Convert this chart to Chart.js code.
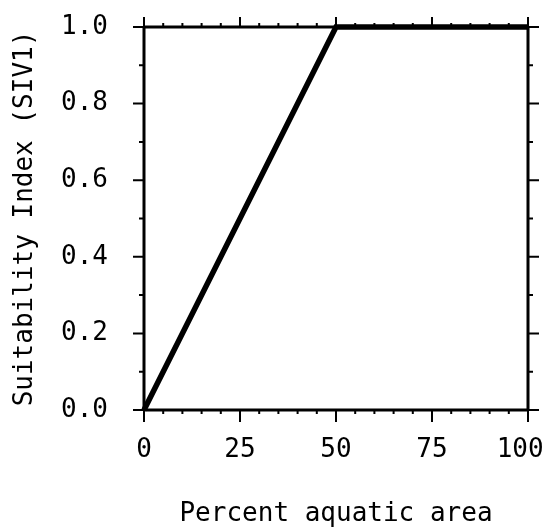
<!DOCTYPE html>
<html>
<head>
<meta charset="utf-8">
<script src="https://cdn.jsdelivr.net/npm/chart.js@4/dist/chart.umd.min.js"></script>
<style>
  html, body { margin: 0; padding: 0; background: #fff; }
  #wrap { width: 547px; height: 528px; }
</style>
</head>
<body>
<div id="wrap"><canvas id="siChart" width="547" height="528"></canvas></div>
<script>
// percent aquatic area vs suitability index
const aquaticPct = [0, 50, 100];
const suitability = [0, 1, 1];
const xTicks = [0, 25, 50, 75, 100];
const yTicks = [0, 0.2, 0.4, 0.6, 0.8, 1.0];
const xMinorStep = 5;
const yMinorStep = 0.1;

const FONT = "'DejaVu Sans Mono', 'Liberation Mono', monospace";
const FSIZE = 26;

// outward tick marks on all four sides, plus the frame
const frameTicks = {
  id: 'frameTicks',
  afterDatasetsDraw(chart) {
    const { ctx, chartArea: a, scales: { x, y } } = chart;
    ctx.save();
    ctx.strokeStyle = '#000';
    ctx.lineCap = 'butt';

    ctx.lineWidth = 3;
    ctx.beginPath();
    ctx.moveTo(a.left, a.top); ctx.lineTo(a.right, a.top);
    ctx.moveTo(a.right, a.top); ctx.lineTo(a.right, a.bottom);
    ctx.moveTo(a.left, a.bottom); ctx.lineTo(a.right + 1, a.bottom);
    ctx.moveTo(a.left, a.top - 1); ctx.lineTo(a.left, a.bottom + 1);
    ctx.stroke();

    ctx.lineWidth = 2;
    ctx.beginPath();
    for (let v = 0; v <= 100 + 1e-9; v += xMinorStep) {
      const px = x.getPixelForValue(v);
      const major = xTicks.includes(v);
      ctx.moveTo(px, a.top); ctx.lineTo(px, a.top - (major ? 10 : 4));
      ctx.moveTo(px, a.bottom); ctx.lineTo(px, a.bottom + (major ? 12 : 4));
    }
    for (let i = 0; i <= 10; i++) {
      const v = i * yMinorStep;
      const py = y.getPixelForValue(v);
      const major = i % 2 === 0;
      ctx.moveTo(a.left, py); ctx.lineTo(a.left - (major ? 11 : 5), py);
      ctx.moveTo(a.right, py); ctx.lineTo(a.right + (major ? 11 : 5), py);
    }
    ctx.stroke();
    ctx.restore();
  }
};

const chart = new Chart(document.getElementById('siChart'), {
  type: 'line',
  data: {
    datasets: [{
      data: aquaticPct.map((v, i) => ({ x: v, y: suitability[i] })),
      borderColor: '#000',
      borderWidth: 5.5,
      pointRadius: 0,
      tension: 0,
      clip: false
    }]
  },
  options: {
    responsive: false,
    animation: false,
    layout: { padding: { top: 27, right: 19, left: 0, bottom: 0 } },
    plugins: { legend: { display: false }, tooltip: { enabled: false } },
    scales: {
      x: {
        type: 'linear',
        min: 0,
        max: 100,
        afterBuildTicks: (s) => { s.ticks = xTicks.map(v => ({ value: v })); },
        afterFit: (s) => { s.height = 118; s.paddingLeft = 0; s.paddingRight = 0; },
        grid: { display: true, drawOnChartArea: false, drawTicks: true, tickLength: 12, color: 'rgba(0,0,0,0)' },
        border: { display: false },
        ticks: {
          color: '#000',
          font: { family: FONT, size: FSIZE },
          padding: 13,
          maxRotation: 0,
          // last label sits a little inside the page edge, as in the original
          callback: (v) => (v === 100 ? '100 ' : String(v))
        },
        title: {
          display: true,
          text: 'Percent aquatic area',
          color: '#000',
          font: { family: FONT, size: FSIZE },
          padding: { top: 0, bottom: -2 }
        }
      },
      y: {
        type: 'linear',
        min: 0,
        max: 1,
        afterBuildTicks: (s) => { s.ticks = yTicks.map(v => ({ value: v })); },
        afterFit: (s) => { s.width = 144; s.paddingTop = 0; s.paddingBottom = 0; },
        grid: { display: true, drawOnChartArea: false, drawTicks: true, tickLength: 11, color: 'rgba(0,0,0,0)' },
        border: { display: false },
        ticks: {
          color: '#000',
          font: { family: FONT, size: FSIZE },
          padding: 25,
          callback: (v) => Number(v).toFixed(1)
        },
        title: {
          display: true,
          text: 'Suitability Index (SIV1)',
          color: '#000',
          font: { family: FONT, size: FSIZE },
          padding: { top: 10, bottom: 0 }
        }
      }
    }
  },
  plugins: [frameTicks]
});
</script>
</body>
</html>
